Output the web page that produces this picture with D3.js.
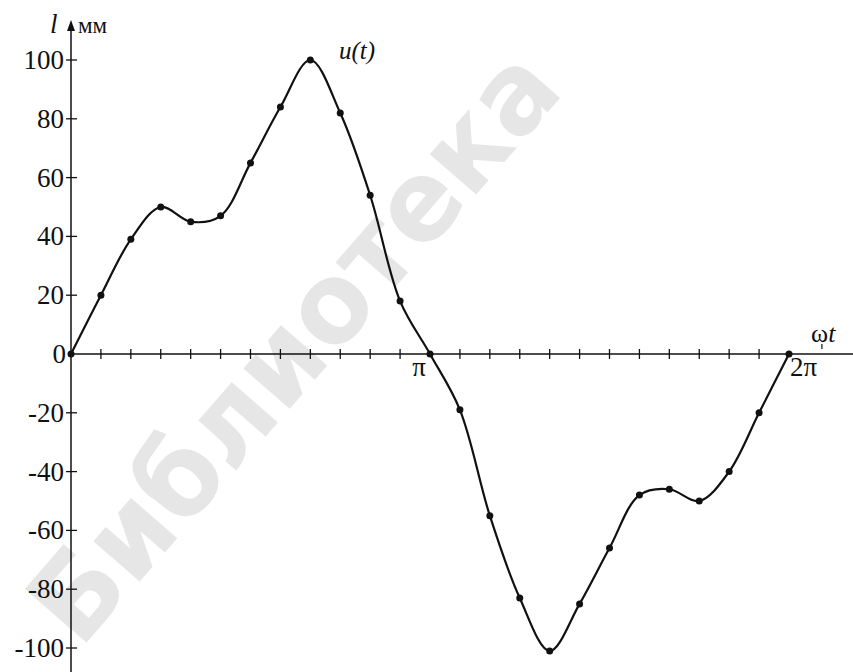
<!DOCTYPE html>
<html lang="ru">
<head>
<meta charset="UTF-8">
<title>u(t)</title>
<script src="https://d3js.org/d3.v7.min.js"></script>
<style>
  body { margin: 0; background: #fff; }
  svg { display: block; }
  text { font-family: "Liberation Serif", "Times New Roman", serif; fill: #111; }
</style>
</head>
<body>
<script>
// phase in steps of pi/12, values in mm
const phase = [0, 1, 2, 3, 4, 5, 6, 7, 8, 9, 10, 11, 12,
               13, 14, 15, 16, 17, 18, 19, 20, 21, 22, 23, 24];
const u = [0, 20, 39, 50, 45, 47, 65, 84, 100, 82, 54, 18, 0,
           -19, -55, -83, -101, -85, -66, -48, -46, -50, -40, -20, 0];
const yTicks = [-100, -80, -60, -40, -20, 20, 40, 60, 80, 100];
const xTickSteps = [1, 2, 3, 4, 5, 6, 7, 8, 9, 10, 11, 13, 14, 15, 16, 17, 18, 19, 20, 21, 22, 23];
const xLabels = [{step: 12, text: "π"}, {step: 24, text: "2π"}];

const width = 853, height = 672;
const svg = d3.select("body").append("svg")
    .attr("width", width)
    .attr("height", height);

const x = d3.scaleLinear().domain([0, 24]).range([71, 789]);
const y = d3.scaleLinear().domain([-100, 100]).range([648, 60]);

// faint watermark behind the chart
svg.append("text")
    .attr("transform", "translate(80,650) rotate(-49)")
    .style("font-family", "'DejaVu Sans', sans-serif")
    .style("font-weight", "bold")
    .style("font-size", "112px")
    .style("fill", "#e6e6e6")
    .attr("textLength", 740)
    .attr("lengthAdjust", "spacingAndGlyphs")
    .text("Библиотека");

// x axis
svg.append("line")
    .attr("x1", x(0)).attr("x2", width)
    .attr("y1", y(0)).attr("y2", y(0))
    .attr("stroke", "#111").attr("stroke-width", 1.5);

svg.append("g").selectAll("line")
    .data(xTickSteps)
    .join("line")
    .attr("x1", d => x(d)).attr("x2", d => x(d))
    .attr("y1", y(0) - 5).attr("y2", y(0) + 5)
    .attr("stroke", "#111").attr("stroke-width", 1.3);

svg.append("line")
    .attr("x1", x(25.1)).attr("x2", x(25.1))
    .attr("y1", y(0) - 10).attr("y2", y(0) - 5)
    .attr("stroke", "#111").attr("stroke-width", 1.2);

svg.append("g").selectAll("text")
    .data(xLabels)
    .join("text")
    .attr("x", d => d.step === 12 ? x(d.step) - 11 : x(d.step) + 1)
    .attr("y", y(0) + 22)
    .attr("text-anchor", d => d.step === 12 ? "middle" : "start")
    .style("font-size", "27px")
    .text(d => d.text);

const wt = svg.append("text")
    .attr("x", 811).attr("y", 342)
    .style("font-size", "26px");
wt.append("tspan").text("ω");
wt.append("tspan").style("font-style", "italic").text("t");

// y axis
svg.append("line")
    .attr("x1", x(0)).attr("x2", x(0))
    .attr("y1", 28).attr("y2", height)
    .attr("stroke", "#111").attr("stroke-width", 1.5);

svg.append("path")
    .attr("d", `M${x(0)},20 L${x(0) - 4},31 L${x(0) + 4},31 Z`)
    .attr("fill", "#111");

svg.append("g").selectAll("line")
    .data(yTicks)
    .join("line")
    .attr("x1", x(0) - 5).attr("x2", x(0) + 6)
    .attr("y1", d => y(d)).attr("y2", d => y(d))
    .attr("stroke", "#111").attr("stroke-width", 1.3);

svg.append("g").selectAll("text")
    .data(yTicks.concat([0]))
    .join("text")
    .attr("x", d => d === 0 ? x(0) - 5 : x(0) - 7)
    .attr("y", d => y(d) + 9)
    .attr("text-anchor", "end")
    .style("font-size", "27px")
    .text(d => d);

svg.append("text")
    .attr("x", 50).attr("y", 33)
    .style("font-size", "27px")
    .style("font-style", "italic")
    .text("l");

svg.append("text")
    .attr("x", 78).attr("y", 33)
    .style("font-size", "23px")
    .text("мм");

// curve
const pts = phase.map((p, i) => [p, u[i]]);

svg.append("path")
    .datum(pts)
    .attr("fill", "none")
    .attr("stroke", "#111")
    .attr("stroke-width", 2.2)
    .attr("d", d3.line()
        .x(d => x(d[0]))
        .y(d => y(d[1]))
        .curve(d3.curveCatmullRom.alpha(0.5)));

svg.append("g").selectAll("circle")
    .data(pts)
    .join("circle")
    .attr("cx", d => x(d[0]))
    .attr("cy", d => y(d[1]))
    .attr("r", 3.5)
    .attr("fill", "#111");

svg.append("text")
    .attr("x", 339).attr("y", 59)
    .style("font-size", "25px")
    .style("font-style", "italic")
    .text("u(t)");
</script>
</body>
</html>
